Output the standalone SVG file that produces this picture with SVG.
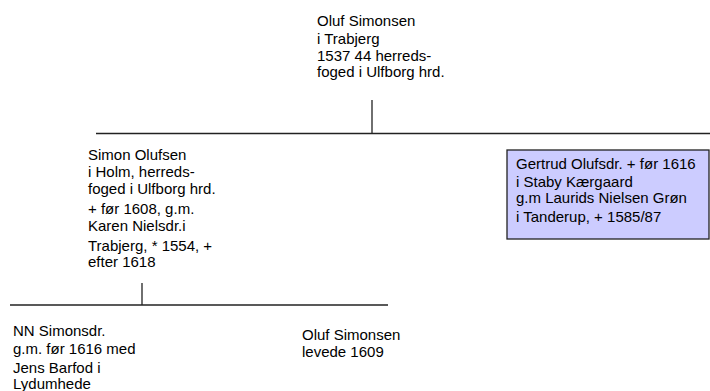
<svg xmlns="http://www.w3.org/2000/svg" width="710" height="391" viewBox="0 0 710 391">
<style>
text{font-family:"Liberation Sans",Arial,sans-serif;font-size:15px;fill:#000}
.ln{stroke:#222;stroke-width:1.3;fill:none}
.box{fill:#ccccff;stroke:#222;stroke-width:1.3}
</style>
<rect width="710" height="391" fill="#fff"/>
<g id="connectors">
<line class="ln" x1="372" y1="100" x2="372" y2="133"/>
<line class="ln" x1="96" y1="133.5" x2="710" y2="133.5"/>
<line class="ln" x1="142" y1="283" x2="142" y2="305"/>
<line class="ln" x1="10" y1="305" x2="388" y2="305"/>
</g>
<g id="oluf-top">
<text x="317" y="26">Oluf Simonsen</text>
<text x="317" y="44">i Trabjerg</text>
<text x="317" y="61">1537 44 herreds-</text>
<text x="317" y="77">foged i Ulfborg hrd.</text>
</g>
<g id="simon">
<text x="88" y="160">Simon Olufsen</text>
<text x="88" y="177">i Holm, herreds-</text>
<text x="88" y="194">foged i Ulfborg hrd.</text>
<text x="88" y="214">+ før 1608, g.m.</text>
<text x="88" y="231">Karen Nielsdr.i</text>
<text x="88" y="251">Trabjerg, * 1554, +</text>
<text x="88" y="267">efter 1618</text>
</g>
<g id="gertrud">
<rect class="box" x="507" y="150" width="202" height="89"/>
<text x="516" y="169">Gertrud Olufsdr. + før 1616</text>
<text x="516" y="187">i Staby Kærgaard</text>
<text x="516" y="203">g.m Laurids  Nielsen Grøn</text>
<text x="516" y="222">i Tanderup, + 1585/87</text>
</g>
<g id="nn">
<text x="13" y="336">NN Simonsdr.</text>
<text x="13" y="354">g.m. før 1616 med</text>
<text x="13" y="373">Jens Barfod i</text>
<text x="13" y="389">Lydumhede</text>
</g>
<g id="oluf-bottom">
<text x="302" y="340">Oluf Simonsen</text>
<text x="302" y="357">levede 1609</text>
</g>
</svg>
